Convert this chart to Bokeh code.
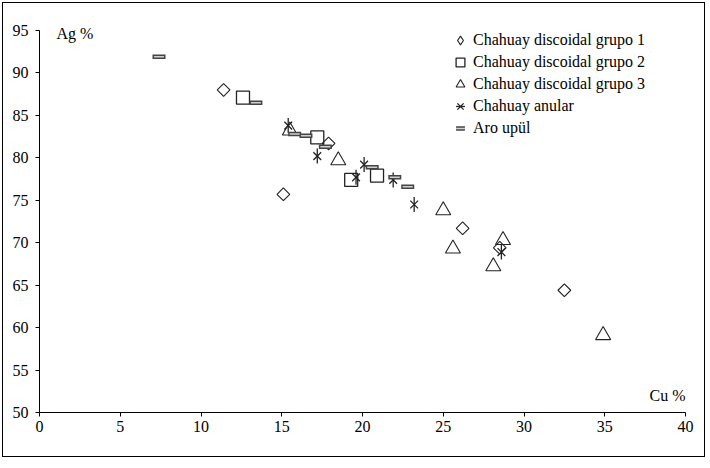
import numpy as np
from bokeh.plotting import figure
from bokeh.models import Range1d, FixedTicker, Legend, LegendItem, Label
from bokeh.embed import file_html
from bokeh.resources import INLINE

# ---- data (Cu %, Ag %) ----
g1_cu = [11.4, 17.9, 15.1, 26.2, 28.5, 32.5]
g1_ag = [88.0, 81.7, 75.7, 71.7, 69.4, 64.4]

g2_cu = [12.6, 17.2, 19.3, 20.9]
g2_ag = [87.1, 82.4, 77.4, 77.9]

g3_cu = [15.5, 18.5, 25.0, 25.6, 28.7, 28.1, 34.9]
g3_ag = [83.2, 79.7, 73.8, 69.3, 70.3, 67.2, 59.1]

anular_cu = [15.4, 17.2, 20.1, 19.6, 21.9, 23.2, 28.6]
anular_ag = [83.8, 80.2, 79.2, 77.7, 77.4, 74.5, 68.9]

aro_cu = [7.4, 13.4, 15.8, 16.5, 17.7, 20.6, 22.0, 22.8]
aro_ag = [91.9, 86.5, 82.8, 82.6, 81.3, 78.9, 77.7, 76.6]

labels = ["Chahuay discoidal grupo 1", "Chahuay discoidal grupo 2",
          "Chahuay discoidal grupo 3", "Chahuay anular", "Aro upül"]
x_ticks = [0, 5, 10, 15, 20, 25, 30, 35, 40]
y_ticks = [50, 55, 60, 65, 70, 75, 80, 85, 90, 95]

FONT = "Liberation Serif"
FS = "16px"
INK = "#222222"

p = figure(width=703, height=455, output_backend="svg", toolbar_location=None,
           x_range=Range1d(0, 40), y_range=Range1d(50, 97),
           min_border_left=36, min_border_right=21, min_border_top=10,
           min_border_bottom=46)
p.styles = {"border": "1px solid black", "margin-left": "2px", "margin-top": "2px"}
p.grid.visible = False
p.outline_line_color = None
p.background_fill_color = "white"
p.border_fill_color = "white"
# an off-screen range used only to provide the legend swatch of grupo 1
p.extra_x_ranges = {"key": Range1d(1000, 1040)}

xa = p.xaxis[0]
ya = p.yaxis[0]
xa.ticker = FixedTicker(ticks=x_ticks)
ya.ticker = FixedTicker(ticks=y_ticks)
ya.bounds = (50, 95)
xa.major_label_standoff = 4
ya.major_label_standoff = 7
for ax in (xa, ya):
    ax.minor_tick_line_color = None
    ax.major_tick_in = 0
    ax.major_tick_out = 4
    ax.axis_line_color = "black"
    ax.major_tick_line_color = "black"
    ax.major_label_text_font = FONT
    ax.major_label_text_font_size = FS
    ax.major_label_text_color = "black"

r1 = p.scatter(g1_cu, g1_ag, marker="square", angle=np.pi / 4,
               size=9, fill_color=None, line_color=INK, line_width=1.1)
# legend swatch for grupo 1 (the legend does not rotate markers)
r1_key = p.scatter(g1_cu, g1_ag, marker="diamond", size=12, x_range_name="key",
                   fill_color=None, line_color=INK, line_width=1.1)
r2 = p.scatter(g2_cu, g2_ag, marker="square", size=13,
               fill_color=None, line_color=INK, line_width=1.3)
r3 = p.scatter(g3_cu, g3_ag, marker="triangle", size=15,
               fill_color=None, line_color=INK, line_width=1.1)
r4a = p.scatter(anular_cu, anular_ag, marker="x", size=11,
                line_color=INK, line_width=1.3)
r4b = p.scatter(anular_cu, anular_ag, marker="dash", angle=np.pi / 2, size=15,
                line_color=INK, line_width=1.3)
r5a = p.scatter(aro_cu, aro_ag, marker="dash", size=13,
                line_color="#444444", line_width=4.5)
r5b = p.scatter(aro_cu, aro_ag, marker="dash", size=10,
                line_color="#d0d0d0", line_width=1.5)

legend = Legend(items=[
    LegendItem(label=labels[0], renderers=[r1_key]),
    LegendItem(label=labels[1], renderers=[r2]),
    LegendItem(label=labels[2], renderers=[r3]),
    LegendItem(label=labels[3], renderers=[r4a, r4b]),
    LegendItem(label=labels[4], renderers=[r5a, r5b]),
], location=(410, 273))
legend.border_line_color = None
legend.background_fill_alpha = 0
legend.padding = 0
legend.margin = 0
legend.glyph_width = 22
legend.glyph_height = 22
legend.spacing = 0
legend.label_standoff = 2
legend.label_text_font = FONT
legend.label_text_font_size = FS
legend.label_text_color = "black"
p.add_layout(legend, "center")

p.add_layout(Label(x=1.05, y=94.65, text="Ag %", text_font=FONT,
                   text_font_size=FS, text_baseline="middle",
                   text_color="black"))
p.add_layout(Label(x=40, y=52.0, text="Cu %", text_font=FONT,
                   text_font_size=FS, text_baseline="middle",
                   text_align="right", text_color="black"))

open("out.html", "w").write(file_html(p, INLINE))
